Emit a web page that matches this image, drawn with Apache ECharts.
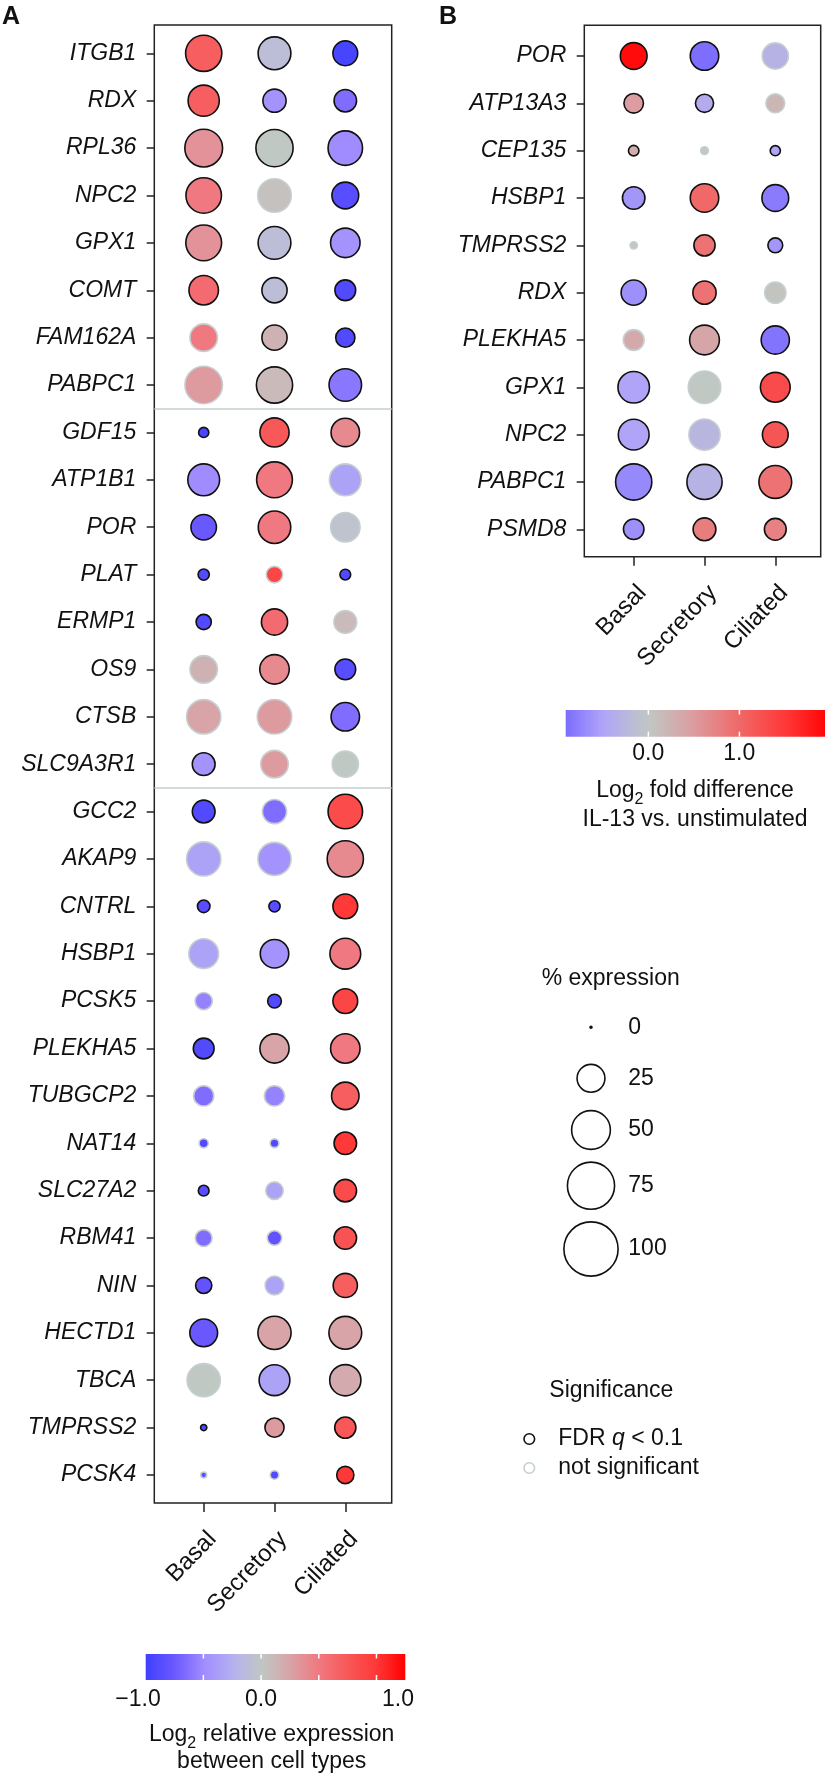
<!DOCTYPE html>
<html><head><meta charset="utf-8">
<script src="https://cdn.jsdelivr.net/npm/echarts@6/dist/echarts.min.js"></script>
<style>html,body{margin:0;padding:0;background:#fff}#c{width:825px;height:1777px}</style>
</head><body><div id="c"></div>
<script>
// ---------------- DATA ----------------
const cellTypes = ['Basal', 'Secretory', 'Ciliated'];

// Panel A
const genesA = ['ITGB1','RDX','RPL36','NPC2','GPX1','COMT','FAM162A','PABPC1',
  'GDF15','ATP1B1','POR','PLAT','ERMP1','OS9','CTSB','SLC9A3R1',
  'GCC2','AKAP9','CNTRL','HSBP1','PCSK5','PLEKHA5','TUBGCP2','NAT14','SLC27A2','RBM41','NIN','HECTD1','TBCA','TMPRSS2','PCSK4'];
const groupSizesA = [8, 8, 15];
// log2 relative expression between cell types
const relBasalA = [0.7,0.7,0.35,0.5,0.35,0.6,0.5,0.3,-0.95,-0.5,-0.75,-0.9,-0.9,0.15,0.25,-0.45,-0.9,-0.35,-0.85,-0.35,-0.55,-0.9,-0.65,-0.9,-0.85,-0.65,-0.8,-0.75,0.0,-0.9,-0.85];
const relSecretoryA = [-0.1,-0.45,0.0,0.05,-0.1,-0.1,0.15,0.1,0.75,0.5,0.5,0.9,0.6,0.4,0.3,0.3,-0.65,-0.45,-0.85,-0.45,-0.9,0.25,-0.55,-0.9,-0.35,-0.8,-0.35,0.25,-0.35,0.3,-0.9];
const relCiliatedA = [-0.95,-0.65,-0.5,-0.85,-0.45,-0.9,-0.9,-0.6,0.4,-0.35,-0.05,-0.9,0.1,-0.85,-0.65,0.0,0.85,0.4,1.0,0.5,0.9,0.5,0.7,1.0,0.85,0.8,0.7,0.25,0.2,0.75,1.0];
// % expression
const pctBasalA = [43.4,31.8,47.4,41.6,42.4,28.2,24.3,46.7,2.7,33.1,20.7,3.4,6.8,24.3,38.5,16.3,16.3,38.5,4.4,28.8,8.9,13.4,12.6,2.1,3.1,8.4,7.8,24.9,36.2,0.8,0.7];
const pctSecretoryA = [35.3,17.0,45.9,36.9,35.3,20.2,20.2,43.4,27.6,42.4,34.6,8.1,22.0,28.2,39.2,24.3,18.6,36.2,3.4,26.2,5.4,27.6,12.6,1.9,9.2,6.1,10.8,36.2,30.9,11.3,1.8];
const pctCiliatedA = [19.5,15.9,39.2,23.0,28.2,13.4,11.3,34.6,26.2,33.1,28.2,3.1,16.3,13.4,26.2,22.0,39.2,43.4,19.5,30.9,19.5,28.2,24.3,15.9,15.9,15.9,18.6,35.3,31.8,14.0,8.9];
// significance (1 = FDR q < 0.1)
const sigBasalA = [1,1,1,1,1,1,0,0,1,1,1,1,1,0,0,1,1,0,1,0,0,1,0,0,1,0,1,1,0,1,0];
const sigSecretoryA = [1,1,1,0,1,1,1,1,1,1,1,0,1,1,0,0,0,0,1,1,1,1,0,0,0,0,0,1,1,1,0];
const sigCiliatedA = [1,1,1,1,1,1,1,1,1,0,0,1,0,1,1,0,1,1,1,1,1,1,1,1,1,1,1,1,1,1,1];

// Panel B
const genesB = ['POR','ATP13A3','CEP135','HSBP1','TMPRSS2','RDX','PLEKHA5','GPX1','NPC2','PABPC1','PSMD8'];
// log2 fold difference IL-13 vs. unstimulated
const fcBasalB = [1.9,0.5,0.3,-0.6,0.0,-0.65,0.35,-0.5,-0.5,-0.7,-0.65];
const fcSecretoryB = [-0.9,-0.4,0.0,1.0,0.9,0.9,0.4,0.0,-0.25,-0.3,0.8];
const fcCiliatedB = [-0.3,0.2,-0.5,-0.8,-0.6,0.05,-0.85,1.3,1.2,0.9,0.75];
const pctBasalB = [23.0,11.7,2.9,15.9,1.2,20.2,13.4,32.4,30.9,43.4,13.0];
const pctSecretoryB = [26.2,10.0,1.4,26.2,14.0,17.0,28.8,34.6,31.8,40.9,16.3];
const pctCiliatedB = [22.0,10.8,2.7,23.0,6.4,14.0,25.7,28.8,21.3,35.3,14.8];
const sigBasalB = [1,1,1,1,0,1,0,1,1,1,1];
const sigSecretoryB = [1,1,0,1,1,1,1,0,0,1,1];
const sigCiliatedB = [0,0,1,1,1,0,1,1,1,1,1];

// legends / colour scales
const sizeLegendValues = [0, 25, 50, 75, 100];
const scaleA = {min: -1, max: 1.25, ticks: [-0.5, 0, 0.5, 1.0], labels: ['\u22121.0', '0.0', '1.0']};
const colorsA = ['#4040ff','#6a58ff','#a08cff','#b4b0f0','#c0c8c4','#d8a4a8','#f07880','#f85858','#ff3838','#ff0000'];
const scaleB = {min: -1, max: 2, ticks: [0, 1.0], labels: ['0.0', '1.0']};
const colorsB = ['#7060ff','#b0a4f8','#c0c8c4','#dc9ca0','#f06868','#ff3838','#ff0000'];

// ---------------- BUILD ----------------
const FONT = '"Liberation Sans", Arial, Helvetica, sans-serif';
const TXT = '#111';
const SIG_BORDER = '#111', NS_BORDER = '#c6cfcf';
const sizeFn = p => Math.max(2, 3 + 52.7 * Math.sqrt(p / 100) - 1.5);

function buildData(genes, rels, pcts, sigs, wantSig) {
  const out = [];
  genes.forEach((g, i) => {
    cellTypes.forEach((c, j) => {
      if (sigs[j][i] === wantSig) out.push([c, g, rels[j][i], pcts[j][i]]);
    });
  });
  return out;
}
const relsA = [relBasalA, relSecretoryA, relCiliatedA];
const pctsA = [pctBasalA, pctSecretoryA, pctCiliatedA];
const sigsA = [sigBasalA, sigSecretoryA, sigCiliatedA];
const relsB = [fcBasalB, fcSecretoryB, fcCiliatedB];
const pctsB = [pctBasalB, pctSecretoryB, pctCiliatedB];
const sigsB = [sigBasalB, sigSecretoryB, sigCiliatedB];

function hex2rgb(h) { return [1,3,5].map(k => parseInt(h.substr(k, 2), 16)); }
function colorAt(colors, min, max, v) {
  const t = (v - min) / (max - min) * (colors.length - 1);
  const i = Math.max(0, Math.min(colors.length - 2, Math.floor(t)));
  const f = Math.max(0, Math.min(1, t - i));
  const a = hex2rgb(colors[i]), b = hex2rgb(colors[i + 1]);
  return 'rgb(' + a.map((x, k) => Math.round(x + (b[k] - x) * f)).join(',') + ')';
}
function gradientStops(colors, min, max, v0, v1) {
  const stops = [];
  for (let k = 0; k <= 40; k++) {
    const v = v0 + (v1 - v0) * k / 40;
    stops.push({offset: k / 40, color: colorAt(colors, min, max, v)});
  }
  return stops;
}

// separators from groups
const sepA = [];
{ let acc = 0; groupSizesA.slice(0, -1).forEach(n => { acc += n; sepA.push({yAxis: acc - 0.5}); }); }

// layout
const rowA = 47.39, rowB = 47.33, colW = 70.8;
const frameA = {left: 154.3, top: 25, width: 237.4, height: 1478};
const catA = {left: 168.3, top: 53.3 - rowA / 2, width: 3 * colW, height: genesA.length * rowA};
const frameB = {left: 584.3, top: 25.3, width: 236.4, height: 531.4};
const catB = {left: 598.3, top: 56 - rowB / 2, width: 3 * colW, height: genesB.length * rowB};

const hiddenVal = (gi, extra) => Object.assign({type: 'value', gridIndex: gi, show: false, min: 0, max: 1,
  axisLine: {show: false}, axisTick: {show: false}, axisLabel: {show: false}, splitLine: {show: false}}, extra || {});

function catX(gi, offset) {
  return {type: 'category', gridIndex: gi, data: cellTypes, position: 'bottom', offset: offset,
    axisLine: {show: false},
    axisTick: {show: true, alignWithLabel: true, length: 9, interval: 0, lineStyle: {color: '#222', width: 1.5}},
    axisLabel: {interval: 0, rotate: 46, fontSize: 24, color: TXT, fontFamily: FONT, margin: 24, verticalAlign: 'top'},
    splitLine: {show: false}};
}
function catY(gi, genes, offset) {
  return {type: 'category', gridIndex: gi, data: genes, inverse: true, offset: offset,
    axisLine: {show: false},
    axisTick: {show: true, alignWithLabel: true, length: 7.6, interval: 0, lineStyle: {color: '#222', width: 1.5}},
    axisLabel: {interval: 0, fontSize: 23, fontStyle: 'italic', color: TXT, fontFamily: FONT, margin: 18},
    splitLine: {show: false}};
}

function scatter(xi, data, border) {
  return {type: 'scatter', xAxisIndex: xi, yAxisIndex: xi, data: data,
    symbolSize: v => sizeFn(v[3]),
    itemStyle: {borderColor: border, borderWidth: 1.6, opacity: 1},
    emphasis: {disabled: true}, silent: true};
}

// graphics
const g = [];
function txt(x, y, text, opt) {
  g.push({type: 'text', x: x, y: y, silent: true, style: Object.assign({text: text, fill: TXT, fontFamily: FONT, fontSize: 23,
    align: 'left', verticalAlign: 'middle'}, opt || {})});
}
txt(2, 17, 'A', {fontWeight: 'bold', fontSize: 25});
txt(439, 17, 'B', {fontWeight: 'bold', fontSize: 25});

function colorbar(x0, x1, y0, h, sc, colors, v0, v1, labelXs, labelY) {
  g.push({type: 'rect', silent: true, shape: {x: x0, y: y0, width: x1 - x0, height: h},
    style: {fill: {type: 'linear', x: 0, y: 0, x2: 1, y2: 0, colorStops: gradientStops(colors, sc.min, sc.max, v0, v1)}}});
  sc.ticks.forEach(t => {
    const x = x0 + (t - v0) / (v1 - v0) * (x1 - x0);
    g.push({type: 'line', silent: true, shape: {x1: x, y1: y0, x2: x, y2: y0 + 4.5}, style: {stroke: '#fff', lineWidth: 1.5}});
    g.push({type: 'line', silent: true, shape: {x1: x, y1: y0 + h - 5, x2: x, y2: y0 + h}, style: {stroke: '#fff', lineWidth: 1.5}});
  });
  sc.labels.forEach((l, k) => txt(labelXs[k], labelY, l, {align: 'center'}));
}
// A colorbar: value -1 .. 1.25
colorbar(145.7, 405.3, 1654, 26, scaleA, colorsA, -1, 1.25, [138, 261, 398], 1699.5);
// B colorbar: value -0.908 .. 1.94
colorbar(565.7, 825, 710, 26.7, scaleB, colorsB, -0.908, 1.94, [648.3, 739.3], 753.3);

function log2Title(cx, cy, rest) {
  g.push({type: 'text', x: cx, y: cy, silent: true, style: {
    text: '{a|Log}{s|2}{a|' + rest + '}', align: 'center', verticalAlign: 'middle',
    rich: {a: {fontSize: 23, fontFamily: FONT, fill: TXT, lineHeight: 34},
           s: {fontSize: 16, fontFamily: FONT, fill: TXT, verticalAlign: 'bottom', lineHeight: 34}}}});
}
log2Title(271.7, 1735, ' relative expression');
txt(271.7, 1762, 'between cell types', {align: 'center'});
log2Title(695, 791, ' fold difference');
txt(695, 819.7, 'IL-13 vs. unstimulated', {align: 'center'});

// size legend
txt(541.7, 979, '% expression');
const legendY = [1027.3, 1078.3, 1130, 1185.7, 1249];
sizeLegendValues.forEach((p, k) => {
  g.push({type: 'circle', silent: true, shape: {cx: 591, cy: legendY[k], r: sizeFn(p) / 2},
    style: {fill: p === 0 ? '#111' : '#fff', stroke: '#111', lineWidth: 1.6}});
  txt(628.3, legendY[k], String(p));
});
// significance legend
txt(549.3, 1391, 'Significance');
g.push({type: 'circle', silent: true, shape: {cx: 529.3, cy: 1439, r: 5.3}, style: {fill: '#fff', stroke: SIG_BORDER, lineWidth: 1.6}});
g.push({type: 'text', x: 558.3, y: 1439, silent: true, style: {text: '{n|FDR }{q|q}{n| < 0.1}', verticalAlign: 'middle',
  rich: {n: {fontSize: 23, fontFamily: FONT, fill: TXT}, q: {fontSize: 23, fontFamily: FONT, fill: TXT, fontStyle: 'italic'}}}});
g.push({type: 'circle', silent: true, shape: {cx: 529.3, cy: 1468, r: 5.3}, style: {fill: '#fff', stroke: NS_BORDER, lineWidth: 1.6}});
txt(558.3, 1468, 'not significant');

const option = {
  animation: false,
  backgroundColor: '#fff',
  grid: [
    Object.assign({show: true, borderColor: '#222', borderWidth: 1.5, backgroundColor: 'transparent'}, frameA),
    catA,
    Object.assign({show: true, borderColor: '#222', borderWidth: 1.5, backgroundColor: 'transparent'}, frameB),
    catB
  ],
  xAxis: [hiddenVal(0), catX(1, frameA.top + frameA.height - catA.top - catA.height),
          hiddenVal(2), catX(3, frameB.top + frameB.height - catB.top - catB.height)],
  yAxis: [hiddenVal(0, {inverse: true, min: (frameA.top - 53.3) / rowA, max: (frameA.top + frameA.height - 53.3) / rowA}),
          catY(1, genesA, catA.left - frameA.left),
          hiddenVal(2),
          catY(3, genesB, catB.left - frameB.left)],
  visualMap: [
    {type: 'continuous', show: false, seriesIndex: [1, 2], dimension: 2, min: scaleA.min, max: scaleA.max, inRange: {color: colorsA}},
    {type: 'continuous', show: false, seriesIndex: [3, 4], dimension: 2, min: scaleB.min, max: scaleB.max, inRange: {color: colorsB}}
  ],
  series: [
    {type: 'line', xAxisIndex: 0, yAxisIndex: 0, data: [], silent: true,
     markLine: {silent: true, symbol: 'none', label: {show: false}, animation: false,
       lineStyle: {color: '#c3cece', width: 1.5, type: 'solid'}, emphasis: {disabled: true}, data: sepA}},
    scatter(1, buildData(genesA, relsA, pctsA, sigsA, 0), NS_BORDER),
    scatter(1, buildData(genesA, relsA, pctsA, sigsA, 1), SIG_BORDER),
    scatter(3, buildData(genesB, relsB, pctsB, sigsB, 0), NS_BORDER),
    scatter(3, buildData(genesB, relsB, pctsB, sigsB, 1), SIG_BORDER)
  ],
  graphic: g
};
const chart = echarts.init(document.getElementById('c'), null, {renderer: 'canvas'});
chart.setOption(option);
</script></body></html>
